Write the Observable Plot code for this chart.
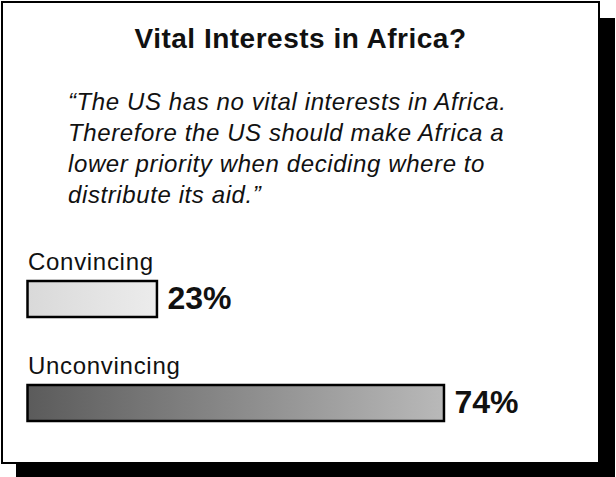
<!DOCTYPE html>
<html>
<head>
<meta charset="utf-8">
<script src="https://cdn.jsdelivr.net/npm/d3@7"></script>
<script src="https://cdn.jsdelivr.net/npm/@observablehq/plot@0.6"></script>
<style>
  html, body { margin: 0; padding: 0; background: #fff; }
  body { width: 616px; height: 477px; overflow: hidden; position: relative; font-family: "Liberation Sans", Arial, sans-serif; }
  #frame { position: absolute; left: 1px; top: 1px; width: 599px; height: 463px; box-sizing: border-box;
           border: 2px solid #000; background: #fff; box-shadow: 15px 17px 0 #000; }
  #title { position: absolute; left: 0; top: 21px; width: 100%; text-align: center; font-weight: bold;
           font-size: 28px; line-height: 30px; letter-spacing: 0.5px; color: #111; }
  #quote { position: absolute; left: 65px; top: 83px; width: 530px; font-style: italic; font-size: 24px;
           line-height: 31px; letter-spacing: 0.6px; color: #111; white-space: nowrap; }
  #chart { position: absolute; left: 0; top: 230px; }
</style>
</head>
<body>
<div id="frame">
  <div id="title"></div>
  <div id="quote"></div>
  <div id="chart"></div>
</div>
<script>
const titleText = "Vital Interests in Africa?";
const quoteLines = [
  "\u201CThe US has no vital interests in Africa.",
  "Therefore the US should make Africa a",
  "lower priority when deciding where to",
  "distribute its aid.\u201D"
];
const categories = ["Convincing", "Unconvincing"];
const values = [23, 74];
const valueLabels = ["23%", "74%"];

document.getElementById("title").textContent = titleText;
document.getElementById("quote").innerHTML = quoteLines.join("<br>");

const data = categories.map((c, i) => ({category: c, value: values[i], label: valueLabels[i]}));

function defs() {
  const d = d3.create("svg:defs");
  const g1 = d.append("linearGradient").attr("id", "gConv").attr("x1", "0").attr("x2", "1").attr("y1", "0").attr("y2", "0");
  g1.append("stop").attr("offset", "0").attr("stop-color", "#d9d9d9");
  g1.append("stop").attr("offset", "1").attr("stop-color", "#ececec");
  const g2 = d.append("linearGradient").attr("id", "gUnconv").attr("x1", "0").attr("x2", "1").attr("y1", "0").attr("y2", "0");
  g2.append("stop").attr("offset", "0").attr("stop-color", "#5b5b5b");
  g2.append("stop").attr("offset", "1").attr("stop-color", "#b9b9b9");
  return d.node();
}

const chart = Plot.plot({
  width: 593,
  height: 225,
  margin: 0,
  x: {domain: [0, 100], range: [24.5, 587.3], axis: null},
  y: {domain: categories, range: [48, 188], paddingInner: 0.654, paddingOuter: 0, align: 0, axis: null},
  style: {fontFamily: "'Liberation Sans', Arial, sans-serif", background: "transparent", color: "#111"},
  marks: [
    defs,
    Plot.barX(data.filter(d => d.category === "Convincing"), {x: "value", y: "category", fill: "url(#gConv)", stroke: "#000", strokeWidth: 2.5}),
    Plot.barX(data.filter(d => d.category === "Unconvincing"), {x: "value", y: "category", fill: "url(#gUnconv)", stroke: "#000", strokeWidth: 2.5}),
    Plot.text(data, {x: 0, y: "category", text: "category", textAnchor: "start", dx: 0, dy: -37, fontSize: 24, fill: "#111", lineAnchor: "middle", letterSpacing: "0.7px"}),
    Plot.text(data, {x: "value", y: "category", text: "label", textAnchor: "start", dx: 10, dy: -1, fontSize: 32, fontWeight: "bold", fill: "#111", lineAnchor: "middle"})
  ]
});
chart.querySelectorAll("text").forEach(t => {
  if (t.closest("g") && t.closest("g").getAttribute("font-size") === "24") t.style.letterSpacing = "0.7px";
});
document.getElementById("chart").appendChild(chart);
</script>
</body>
</html>
